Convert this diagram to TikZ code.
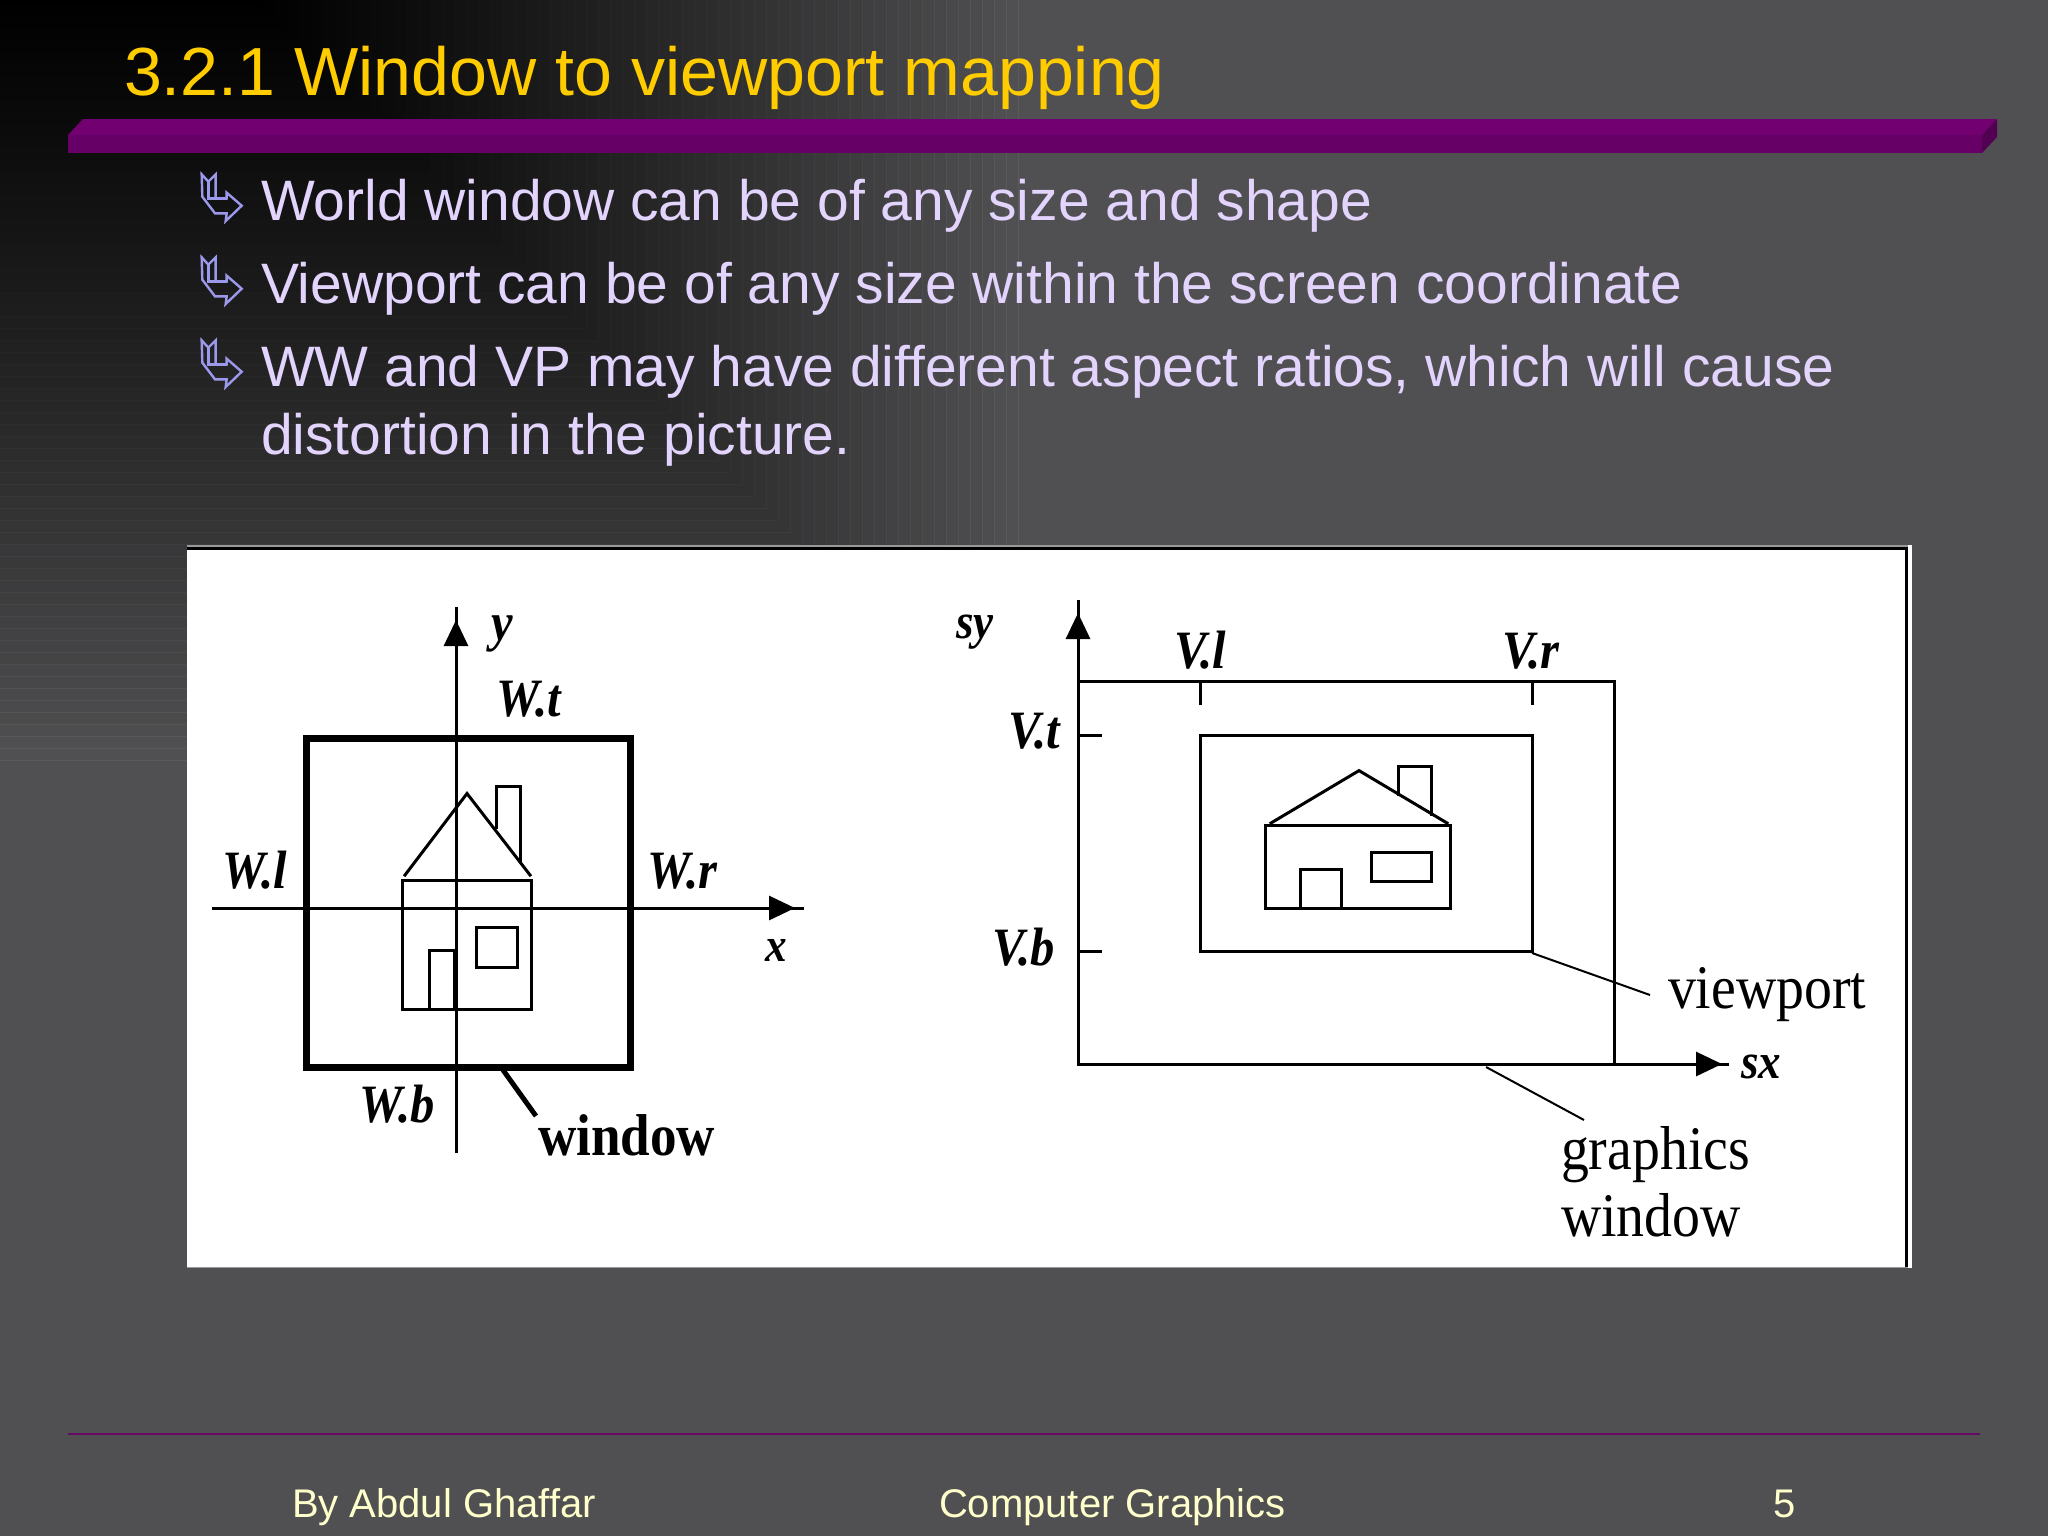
\documentclass[tikz,border=0pt]{standalone}
\usepackage{fontspec}
\usetikzlibrary{arrows.meta}
\setmainfont{Liberation Sans}
\newfontfamily\lblfont[FakeStretch=0.9]{Liberation Serif}
\definecolor{bgray}{HTML}{504F51}
\definecolor{ttl}{HTML}{FFCC00}
\definecolor{bodyc}{HTML}{E2D4FC}
\definecolor{bul}{HTML}{9C99EC}
\definecolor{foot}{HTML}{FFFFCC}
\definecolor{barA}{HTML}{720070}
\definecolor{barB}{HTML}{660066}
\definecolor{barC}{HTML}{520052}
\definecolor{rulec}{HTML}{660A66}
\newcommand{\bulletglyph}[1]{%
 \begin{scope}[shift={(190,#1)},x=0.1667pt,y=-0.1667pt,draw=bul,line width=1.2pt,line join=miter]
  \draw (35,28) -- (55,50) -- (77,28) -- (77,100) -- (110,100) -- (110,83) -- (155,122) -- (107,168) -- (110,145) -- (75,145) -- (37,95) -- cycle;
  \draw (55,50) -- (55,100) -- (110,100);
 \end{scope}}
\tikzset{
 every node/.style={inner sep=0pt,outer sep=0pt},
 titletext/.style={anchor=base west,text=ttl,font=\fontsize{34.05}{34}\selectfont},
 bodytext/.style={anchor=base west,text=bodyc,font=\fontsize{28.5}{28}\selectfont},
 foottext/.style={anchor=base west,text=foot,font=\fontsize{20}{20}\selectfont},
 lblbi/.style={anchor=base west,text=black,font=\lblfont\bfseries\itshape\fontsize{27}{27}\selectfont},
 lblit/.style={anchor=base west,text=black,font=\lblfont\itshape\bfseries\fontsize{25}{25}\selectfont},
 lblrm/.style={anchor=base west,text=black,font=\lblfont\fontsize{31}{31}\selectfont},
 lblbf/.style={anchor=base west,text=black,font=\lblfont\bfseries\fontsize{29.5}{29}\selectfont},
 thick3/.style={draw=black,line width=1.5pt,line cap=rect},
 thin2/.style={draw=black,line width=1pt},
 tip/.style={-{Triangle[length=13pt,width=12pt]},line width=1.5pt,draw=black},
}
\begin{document}
\begin{tikzpicture}[x=0.5pt,y=-0.5pt]
\useasboundingbox (0,0) rectangle (2048,1536);
\fill[bgray] (0,0) rectangle (2048,1536);
% stepped background gradient from the top left corner
\foreach \s in {760,748,...,4}{
  \pgfmathsetmacro{\mixv}{100*pow(\s/760,1.15)}
  \fill[bgray!\mixv!black,draw=white!6!bgray!\mixv!black,line width=0.4pt] (-5,-5) rectangle ({258+\s},\s);
}
\fill[black] (-5,-5) rectangle (258,0);
% title bar
\fill[barA] (68,135) -- (83,119) -- (1997,119) -- (1982,135) -- cycle;
\fill[barB] (68,135) rectangle (1982,153);
\fill[barC] (1982,135) -- (1997,119) -- (1997,137) -- (1982,153) -- cycle;
\node[titletext] (title) at (124,96) {3.2.1 Window to viewport mapping};
% bullets
\bulletglyph{165}
\bulletglyph{248}
\bulletglyph{331}
\node[bodytext] (b1) at (261,220) {World window can be of any size and shape};
\node[bodytext] (b2) at (261,303) {Viewport can be of any size within the screen coordinate};
\node[bodytext] (b3) at (261,386) {WW and VP may have different aspect ratios, which will cause};
\node[bodytext] (b4) at (261,454) {distortion in the picture.};
% picture panel
\fill[gray!80] (187,545) rectangle (1912,1268);
\fill[black] (187,547) rectangle (1908,1267);
\fill[white] (1908,545) rectangle (1912,1268);
\fill[white] (187,549.5) rectangle (1905,1267);
% ---- left diagram
\coordinate (yB) at (456,1151); \coordinate (yT) at (456,608);
\coordinate (yH) at (456,650); \coordinate (yH2) at (456,620);
\coordinate (xL) at (213,908); \coordinate (xR) at (802,908);
\coordinate (xH) at (765,908); \coordinate (xH2) at (795,908);
\draw[thick3] (yB) -- (yT);
\draw[thick3] (xL) -- (xR);
\draw[tip] (yH) -- (yH2);
\draw[tip] (xH) -- (xH2);
\draw[draw=black,line width=3.5pt] (306,738) rectangle (630,1067);
\draw[thick3] (402,880.5) rectangle (531,1009);
\draw[thick3] (405,875) -- (467,793.5) -- (530,875);
\draw[thick3] (496,827) -- (496,786.5) -- (520,786.5) -- (520,861);
\draw[thick3] (429,1009) -- (429,950.5) -- (454,950.5) -- (454,1009);
\draw[thick3] (476,927) rectangle (517,967.5);
\coordinate (wA) at (503,1070); \coordinate (wB) at (536,1116);
\draw[draw=black,line width=2.5pt] (wA) -- (wB);
\node[lblbi] (ly) at (491,640) {y};
\node[lblbi] (lwt) at (496,716) {W.t};
\node[lblbi] (lwl) at (222,888) {W.l};
\node[lblbi] (lwr) at (647,888) {W.r};
\node[lblbi,font=\lblfont\bfseries\itshape\fontsize{24}{24}\selectfont] (lx) at (765,961) {x};
\node[lblbi] (lwb) at (359,1122) {W.b};
\node[lblbf] (lwin) at (538,1155) {window};
% ---- right diagram
\coordinate (sO) at (1078,1064); \coordinate (sT) at (1078,601); \coordinate (sR) at (1727,1064);
\draw[thick3] (sT) -- (sO) -- (sR);
\coordinate (sH) at (1078,645); \coordinate (sH2) at (1078,613);
\coordinate (sxH) at (1680,1064); \coordinate (sxH2) at (1722,1064);
\draw[tip] (sH) -- (sH2);
\draw[tip] (sxH) -- (sxH2);
\draw[thick3] (1078,681) -- (1614,681) -- (1614,1064);
\draw[thick3] (1200,681) -- (1200,703);
\draw[thick3] (1532,681) -- (1532,703);
\draw[thick3] (1078,735) -- (1100,735);
\draw[thick3] (1078,951) -- (1100,951);
\draw[thick3] (1200,735) rectangle (1532,951);
\draw[thick3] (1265.5,825) rectangle (1450,908);
\draw[thick3] (1271,823) -- (1359,770.6) -- (1447,823);
\draw[thick3] (1398,794) -- (1398,766) -- (1431,766) -- (1431,814);
\draw[thick3] (1300.6,908) -- (1300.6,869) -- (1341,869) -- (1341,908);
\draw[thick3] (1371,852) rectangle (1431,881);
\coordinate (vA) at (1532,953); \coordinate (vB) at (1650,995);
\coordinate (gA) at (1486,1067); \coordinate (gB) at (1584,1120);
\draw[thin2] (vA) -- (vB);
\draw[thin2] (gA) -- (gB);
\node[lblit] (lsy) at (956,638) {sy};
\node[lblbi] (lvl) at (1174,668) {V.l};
\node[lblbi] (lvr) at (1502,668) {V.r};
\node[lblbi] (lvt) at (1008,748) {V.t};
\node[lblbi] (lvb) at (992,965) {V.b};
\node[lblrm] (lvp) at (1668,1008) {viewport};
\node[lblit] (lsx) at (1741,1078) {sx};
\node[lblrm] (lg) at (1561,1169) {graphics};
\node[lblrm] (lgw) at (1561,1236) {window};
% footer
\draw[rulec,line width=1pt] (68,1434) -- (1980,1434);
\node[foottext] (f1) at (292,1517) {By Abdul Ghaffar};
\node[foottext] (f2) at (939,1517) {Computer Graphics};
\node[foottext] (f3) at (1773,1517) {5};
\end{tikzpicture}
\end{document}
